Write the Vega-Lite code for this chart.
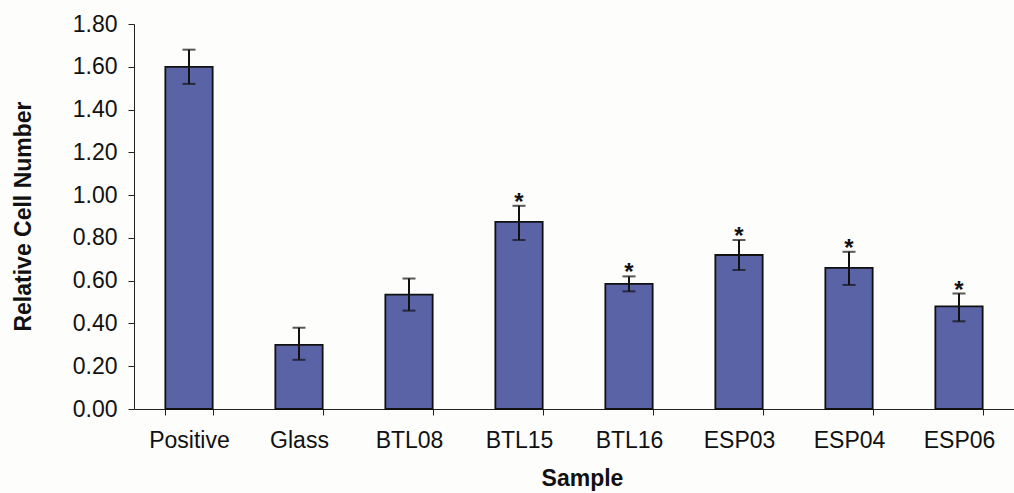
{
  "$schema": "https://vega.github.io/schema/vega-lite/v6.json",
  "width": 880,
  "height": 385,
  "autosize": "none",
  "padding": {"left": 134, "top": 24, "right": 0, "bottom": 84},
  "background": "#fdfdfb",
  "config": {
    "view": {"stroke": null},
    "font": "Liberation Sans",
    "axis": {"grid": false, "domainColor": "#222", "tickColor": "#222", "labelColor": "#111", "titleColor": "#111", "labelFont": "Liberation Sans", "titleFont": "Liberation Sans"}
  },
  "data": {
    "values": [
      {"sample": "Positive", "value": 1.60, "lo": 1.52, "hi": 1.68, "star": ""},
      {"sample": "Glass", "value": 0.30, "lo": 0.23, "hi": 0.38, "star": ""},
      {"sample": "BTL08", "value": 0.535, "lo": 0.46, "hi": 0.61, "star": ""},
      {"sample": "BTL15", "value": 0.875, "lo": 0.79, "hi": 0.95, "star": "*"},
      {"sample": "BTL16", "value": 0.585, "lo": 0.55, "hi": 0.62, "star": "*"},
      {"sample": "ESP03", "value": 0.72, "lo": 0.65, "hi": 0.79, "star": "*"},
      {"sample": "ESP04", "value": 0.66, "lo": 0.58, "hi": 0.735, "star": "*"},
      {"sample": "ESP06", "value": 0.48, "lo": 0.41, "hi": 0.54, "star": "*"}
    ]
  },
  "encoding": {
    "x": {
      "field": "sample", "type": "nominal", "sort": null,
      "scale": {"paddingInner": 0.57, "paddingOuter": 0.285},
      "axis": {
        "title": "Sample", "labelAngle": 0, "labelFontSize": 23, "tickSize": 6, "tickBand": "extent",
        "labelPadding": 14, "titleFontSize": 23, "titleFontWeight": "bold",
        "titleX": 448, "titleY": 69, "titleBaseline": "middle", "titleAlign": "center"
      }
    }
  },
  "layer": [
    {
      "mark": {"type": "bar", "color": "#5b63a7", "stroke": "#111", "strokeWidth": 1.8},
      "encoding": {
        "y": {
          "field": "value", "type": "quantitative",
          "scale": {"domain": [0, 1.8], "nice": false},
          "axis": {
            "title": "Relative Cell Number", "values": [0, 0.2, 0.4, 0.6, 0.8, 1.0, 1.2, 1.4, 1.6, 1.8],
            "format": ".2f", "labelFontSize": 23, "tickSize": 6, "labelPadding": 11,
            "titleFontSize": 23, "titleFontWeight": "bold", "titleAngle": -90,
            "titleX": -111, "titleY": 192, "titleBaseline": "middle", "titleAlign": "center"
          }
        }
      }
    },
    {
      "mark": {"type": "rule", "color": "#111", "strokeWidth": 2},
      "encoding": {"y": {"field": "lo", "type": "quantitative"}, "y2": {"field": "hi"}}
    },
    {
      "mark": {"type": "tick", "color": "#111", "thickness": 2, "size": 13, "orient": "horizontal"},
      "encoding": {"y": {"field": "lo", "type": "quantitative"}}
    },
    {
      "mark": {"type": "tick", "color": "#111", "thickness": 2, "size": 13, "orient": "horizontal"},
      "encoding": {"y": {"field": "hi", "type": "quantitative"}}
    },
    {
      "mark": {"type": "text", "fontSize": 24, "fontWeight": "bold", "color": "#111", "baseline": "alphabetic", "dy": 4},
      "encoding": {"y": {"field": "hi", "type": "quantitative"}, "text": {"field": "star"}}
    }
  ]
}
